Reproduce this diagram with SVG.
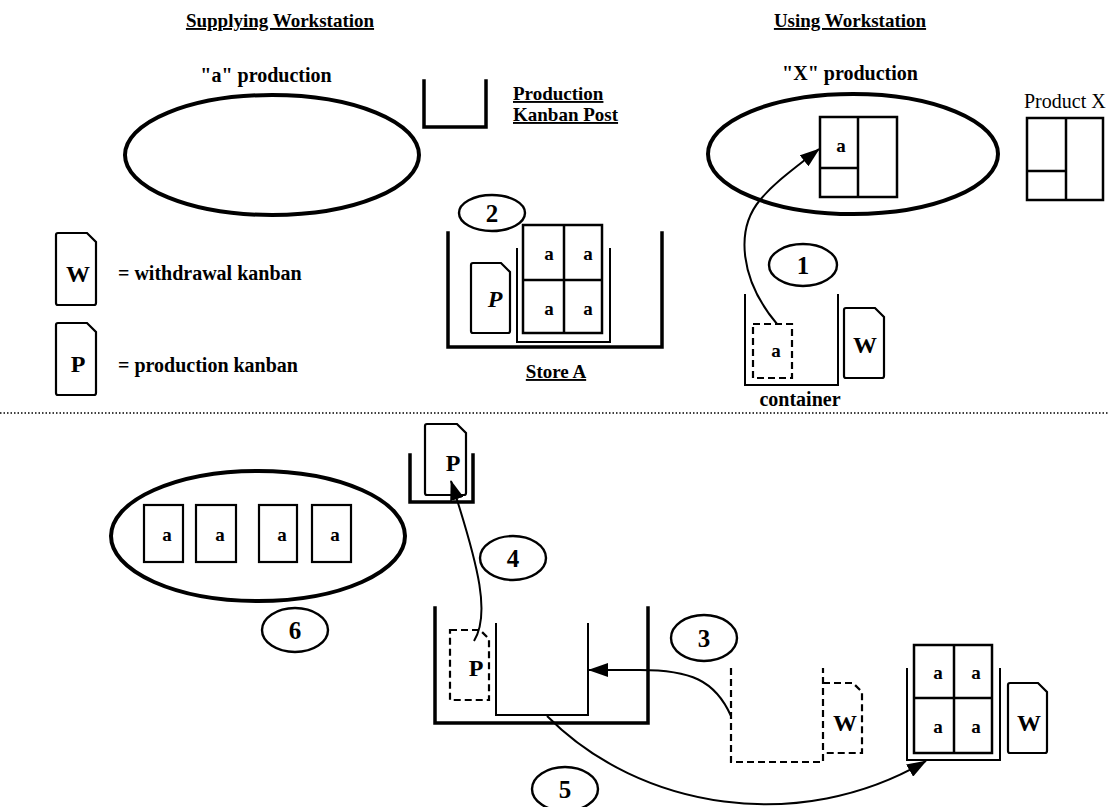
<svg xmlns="http://www.w3.org/2000/svg" width="1120" height="807" viewBox="0 0 1120 807">
<style>
  text { font-family: "Liberation Serif", "Times New Roman", serif; fill: #000; }
  .hdr { font-size: 19px; font-weight: bold; text-decoration: underline; }
  .lbl { font-size: 20px; font-weight: bold; }
  .lblu { font-size: 19px; font-weight: bold; text-decoration: underline; }
  .plain { font-size: 20px; }
  .num { font-size: 25px; font-weight: bold; text-anchor: middle; }
  .ka { font-size: 19px; font-weight: bold; text-anchor: middle; }
  .kc { font-size: 24px; font-weight: bold; text-anchor: middle; }
  .ws { fill: none; stroke: #000; stroke-width: 4; }
  .bin { fill: none; stroke: #000; stroke-width: 3.5; stroke-linecap: square; }
  .thin { fill: none; stroke: #000; stroke-width: 2; }
  .box { fill: #fff; stroke: #000; stroke-width: 2.5; }
  .card { fill: #fff; stroke: #000; stroke-width: 2.2; }
  .dash { fill: none; stroke: #000; stroke-width: 2.2; stroke-dasharray: 7 4; }
  .step { fill: #fff; stroke: #000; stroke-width: 2.4; }
  .sep { stroke: #000; stroke-width: 1.5; stroke-dasharray: 1.5 2; }
  .flow { fill: none; stroke: #000; stroke-width: 2; }
</style>
<defs>
  <marker id="ah" viewBox="0 0 20 14" refX="19" refY="7" markerWidth="20" markerHeight="14" orient="auto" markerUnits="userSpaceOnUse">
    <path d="M0 0 L20 7 L0 14 Z" fill="#000"/>
  </marker>
</defs>

<!-- section headings -->
<g id="headings">
  <text class="hdr" x="280" y="27" text-anchor="middle">Supplying Workstation</text>
  <text class="hdr" x="850" y="27" text-anchor="middle">Using Workstation</text>
</g>

<!-- supplying workstation, "a" production -->
<g id="a-production">
  <text class="lbl" x="266" y="82" text-anchor="middle">"a" production</text>
  <ellipse class="ws" cx="272" cy="155" rx="147" ry="60"/>
</g>

<!-- production kanban post -->
<g id="kanban-post">
  <path class="bin" d="M424 81 V127 H486 V81"/>
  <text class="lblu" x="513" y="100">Production</text>
  <text class="lblu" x="513" y="121">Kanban Post</text>
</g>

<!-- using workstation, "X" production -->
<g id="x-production">
  <text class="lbl" x="850" y="80" text-anchor="middle">"X" production</text>
  <ellipse class="ws" cx="853" cy="154" rx="145" ry="60"/>
  <rect class="box" x="820" y="117" width="77" height="80"/>
  <path class="thin" d="M858 117 V197 M820 168 H858" style="stroke-width:2.5"/>
  <text class="ka" x="841" y="152">a</text>
</g>

<!-- finished product X -->
<g id="product-x">
  <text class="plain" x="1024" y="108">Product X</text>
  <rect class="box" x="1027" y="118" width="76" height="82"/>
  <path class="thin" d="M1066 118 V200 M1027 171 H1066" style="stroke-width:2.5"/>
</g>

<!-- legend -->
<g id="legend-w">
  <path class="card" d="M56 235 Q56 233 58 233 H87 L96 242 V303 Q96 305 94 305 H58 Q56 305 56 303 Z"/>
  <text class="kc" x="78" y="282">W</text>
  <text class="lbl" x="118" y="280">= withdrawal kanban</text>
</g>
<g id="legend-p">
  <path class="card" d="M56 325 Q56 323 58 323 H87 L96 332 V393 Q96 395 94 395 H58 Q56 395 56 393 Z"/>
  <text class="kc" x="78" y="372">P</text>
  <text class="lbl" x="118" y="372">= production kanban</text>
</g>

<!-- store A with full container and production kanban -->
<g id="store-a">
  <path class="bin" d="M448 233 V347 H662 V233"/>
  <path class="thin" d="M517 248 V342 H610 V248"/>
  <rect class="box" x="523" y="225" width="79" height="108"/>
  <path class="thin" d="M564 225 V333 M523 280 H602" style="stroke-width:2.5"/>
  <text class="ka" x="549" y="260">a</text>
  <text class="ka" x="588" y="260">a</text>
  <text class="ka" x="549" y="315">a</text>
  <text class="ka" x="588" y="315">a</text>
  <path class="card" d="M471 265 Q471 263 473 263 H501 L510 272 V331 Q510 333 508 333 H473 Q471 333 471 331 Z"/>
  <text class="kc" x="495" y="307" style="font-style:italic">P</text>
  <text class="lblu" x="556" y="378" text-anchor="middle">Store A</text>
</g>

<!-- step markers -->
<g id="step-2"><ellipse class="step" cx="492" cy="213" rx="33" ry="18"/><text class="num" x="492" y="222">2</text></g>
<g id="step-1"><ellipse class="step" cx="803" cy="265" rx="34" ry="21"/><text class="num" x="803" y="274">1</text></g>
<g id="step-4"><ellipse class="step" cx="513" cy="558" rx="33" ry="22"/><text class="num" x="513" y="567">4</text></g>
<g id="step-6"><ellipse class="step" cx="295" cy="630" rx="33" ry="22"/><text class="num" x="295" y="639">6</text></g>
<g id="step-3"><ellipse class="step" cx="704" cy="638" rx="33" ry="23"/><text class="num" x="704" y="647">3</text></g>
<g id="step-5"><ellipse class="step" cx="565" cy="789" rx="33" ry="22"/><text class="num" x="565" y="798">5</text></g>

<!-- emptied container at the using workstation -->
<g id="container">
  <path class="thin" d="M745 294 V385 H838 V294"/>
  <path class="dash" d="M753 324 H792 V378 H753 Z"/>
  <text class="ka" x="776" y="357">a</text>
  <path class="card" d="M844 310 Q844 308 846 308 H875 L884 317 V376 Q884 378 882 378 H846 Q844 378 844 376 Z"/>
  <text class="kc" x="865" y="353">W</text>
  <text class="lbl" x="800" y="406" text-anchor="middle">container</text>
</g>

<line class="sep" x1="0" y1="413" x2="1108" y2="413"/>

<!-- production kanban on the post -->
<g id="kanban-post-2">
  <path class="bin" d="M410 455 V502 H473 V455"/>
  <path class="card" d="M425 426 Q425 424 427 424 H457 L466 433 V493 Q466 495 464 495 H427 Q425 495 425 493 Z"/>
  <text class="kc" x="453" y="471">P</text>
</g>

<!-- "a" production running -->
<g id="a-production-2">
  <ellipse class="ws" cx="258" cy="536" rx="147" ry="65"/>
  <rect class="card" x="144" y="505" width="39" height="57"/>
  <rect class="card" x="196" y="505" width="40" height="57"/>
  <rect class="card" x="259" y="505" width="38" height="57"/>
  <rect class="card" x="312" y="505" width="39" height="57"/>
  <text class="ka" x="167" y="541">a</text>
  <text class="ka" x="220" y="541">a</text>
  <text class="ka" x="282" y="541">a</text>
  <text class="ka" x="335" y="541">a</text>
</g>

<!-- store A after exchange -->
<g id="store-a-2">
  <path class="bin" d="M435 608 V723 H648 V608"/>
  <path class="thin" d="M496 623 V715 H588 V623"/>
  <path class="dash" d="M450 630 H480 L489 639 V700 H450 Z"/>
  <text class="kc" x="476" y="676">P</text>
</g>

<!-- empty container with withdrawal kanban -->
<g id="empty-container">
  <path class="dash" d="M731 668 V762 H823 V668"/>
  <path class="dash" d="M823 683 H853 L862 692 V753 H823"/>
  <text class="kc" x="845" y="731">W</text>
</g>

<!-- full container taken to the using workstation -->
<g id="full-container">
  <path class="thin" d="M907 668 V760 H1000 V668"/>
  <rect class="box" x="914" y="645" width="78" height="108"/>
  <path class="thin" d="M954 645 V753 M914 698 H992" style="stroke-width:2.5"/>
  <text class="ka" x="938" y="679">a</text>
  <text class="ka" x="976" y="679">a</text>
  <text class="ka" x="938" y="733">a</text>
  <text class="ka" x="976" y="733">a</text>
  <path class="card" d="M1008 685 Q1008 683 1010 683 H1038 L1047 692 V751 Q1047 753 1045 753 H1010 Q1008 753 1008 751 Z"/>
  <text class="kc" x="1029" y="731">W</text>
</g>

<!-- connectors -->
<g id="connectors">
  <path class="flow" d="M777 324 C740 280 735 230 760 200 C775 182 795 168 819 149" marker-end="url(#ah)"/>
  <path class="flow" d="M474 641 C490 615 480 570 451 481" marker-end="url(#ah)"/>
  <path class="flow" d="M731 716 C715 680 690 670 640 670 H589" marker-end="url(#ah)"/>
  <path class="flow" d="M547 716 C640 810 800 835 926 761" marker-end="url(#ah)"/>
</g>
</svg>
